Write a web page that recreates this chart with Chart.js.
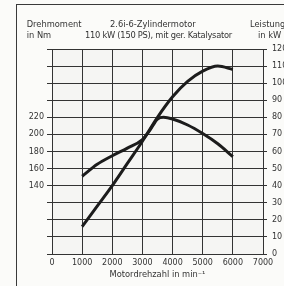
<!DOCTYPE html>
<html><head><meta charset="utf-8">
<script src="https://cdn.jsdelivr.net/npm/chart.js@4/dist/chart.umd.min.js"></script>
<style>
html,body{margin:0;padding:0;background:#fbfbf9;overflow:hidden;width:284px;height:286px;}
#wrap{position:relative;width:284px;height:286px;overflow:hidden;}
#frame{position:absolute;left:16px;top:4px;width:320px;height:320px;border-left:1.5px solid #3a3a3a;border-top:1.5px solid #3a3a3a;}
canvas{position:absolute;left:0;top:0;}
.t{position:absolute;font-family:"DejaVu Sans";font-size:8.3px;color:#333;white-space:nowrap;line-height:1;}
</style></head>
<body>
<div id="wrap">
<div id="frame"></div>
<canvas id="c" width="310" height="286"></canvas>
<div class="t" style="left:26.7px;top:19.7px;">Drehmoment</div>
<div class="t" style="left:26.7px;top:31.3px;">in Nm</div>
<div class="t" style="left:110px;top:19.7px;">2.6i-6-Zylindermotor</div>
<div class="t" style="left:85px;top:31.3px;letter-spacing:-0.25px;">110 kW (150 PS), mit ger. Katalysator</div>
<div class="t" style="left:250px;top:19.7px;">Leistung</div>
<div class="t" style="left:258px;top:31.3px;">in kW</div>
</div>
<script>
// Drehmoment (Nm)
const torqueRpm = [1000,1500,2000,2500,3000,3250,3500,3700,4000,4500,5000,5500,6000];
const torqueNm  = [151,165,175,184,194,205,218,220,218,211,201,189,174];
// Leistung (kW)
const powerRpm  = [1000,1500,2000,2500,3000,3500,4000,4500,5000,5500,6000];
const powerKW   = [16,28,40,53,66,80,92,101,107,110,108];
// Achsen
const rpmTicks = [0,1000,2000,3000,4000,5000,6000,7000];
const nmLabels = [140,160,180,200,220];
const kwTicks  = [0,10,20,30,40,50,60,70,80,90,100,110,120];

const FONT = 'DejaVu Sans';
const ink = '#1c1c1c';
const gridC = '#333333';

const bgPlugin = {
  id:'bg',
  beforeDraw(chart){
    const a = chart.chartArea, ctx = chart.ctx;
    ctx.save(); ctx.fillStyle = '#f5f5f3';
    ctx.fillRect(a.left, a.top, a.right-a.left, a.bottom-a.top);
    ctx.restore();
  }
};

new Chart(document.getElementById('c'), {
  type:'line',
  data:{
    datasets:[
      {label:'Drehmoment', yAxisID:'yN', data: torqueRpm.map((x,i)=>({x, y:torqueNm[i]})),
       borderColor:ink, borderWidth:3, pointRadius:0, fill:false, cubicInterpolationMode:'monotone'},
      {label:'Leistung', yAxisID:'yK', data: powerRpm.map((x,i)=>({x, y:powerKW[i]})),
       borderColor:ink, borderWidth:3, pointRadius:0, fill:false, cubicInterpolationMode:'monotone'}
    ]
  },
  options:{
    responsive:false, animation:false,
    layout:{padding:{top:49, left:0, right:0, bottom:0}},
    plugins:{legend:{display:false}, tooltip:{enabled:false}},
    scales:{
      x:{type:'linear', min:0, max:7000,
         afterBuildTicks(s){ s.ticks = rpmTicks.map(v=>({value:v})); },
         afterFit(s){ s.height = 32; },
         grid:{color:gridC, lineWidth:1, drawTicks:false},
         border:{color:gridC, width:1},
         ticks:{color:'#333', font:{family:FONT, size:8}, padding:4, maxRotation:0, autoSkip:false,
                callback:(v)=> String(v)},
         title:{display:true, text:'Motordrehzahl in min⁻¹', color:'#333', font:{family:FONT, size:8.3}, padding:{top:0,bottom:6}}
      },
      yN:{type:'linear', position:'left', min:60, max:300,
         ticks:{stepSize:20, color:'#333', font:{family:FONT, size:8}, padding:3,
                callback:(v)=> nmLabels.includes(v) ? String(v) : ''},
         afterFit(s){ s.width = 52; },
         grid:{drawOnChartArea:false, color:gridC, tickLength:5, lineWidth:1},
         border:{color:gridC, width:1}
      },
      yK:{type:'linear', position:'right', min:0, max:120,
         afterBuildTicks(s){ s.ticks = kwTicks.map(v=>({value:v})); },
         ticks:{color:'#333', font:{family:FONT, size:8}, padding:5, autoSkip:false, callback:(v)=>String(v)},
         afterFit(s){ s.width = 47; },
         grid:{color:gridC, tickLength:4, lineWidth:1},
         border:{color:gridC, width:1}
      }
    }
  },
  plugins:[bgPlugin]
});
</script>
</body></html>
